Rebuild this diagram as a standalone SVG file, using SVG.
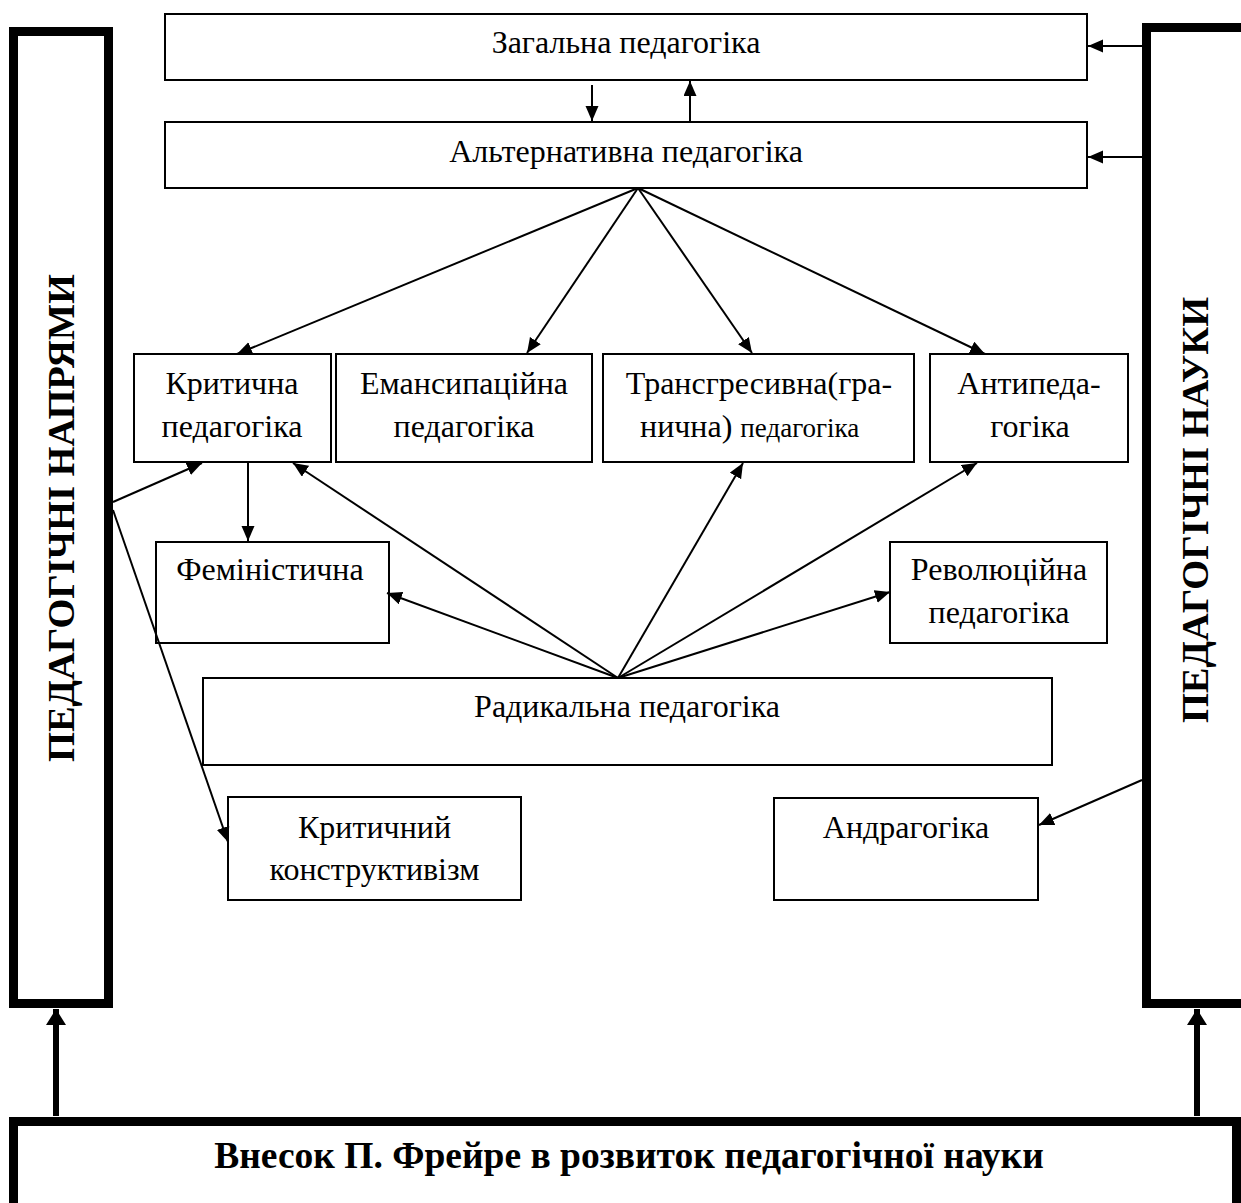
<svg xmlns="http://www.w3.org/2000/svg" width="1241" height="1203" viewBox="0 0 1241 1203">
<defs>
<style>
.box{fill:#fff;stroke:#000;stroke-width:2}
.frame{fill:#fff;stroke:#000;stroke-width:9}
.t{font-family:"Liberation Serif","Times New Roman",serif;font-size:32px;fill:#000;text-anchor:middle}
.tb{font-family:"Liberation Serif","Times New Roman",serif;font-weight:bold;fill:#000;text-anchor:middle}
.ln{stroke:#000;stroke-width:2;fill:none;marker-end:url(#ah)}
.thick{stroke:#000;stroke-width:6;fill:none;marker-end:url(#ahb)}
</style>
<marker id="ah" markerUnits="userSpaceOnUse" markerWidth="16" markerHeight="14" refX="15" refY="6.5" orient="auto">
<path d="M0,0 L15,6.5 L0,13 z" fill="#000"/>
</marker>
<marker id="ahb" markerUnits="userSpaceOnUse" markerWidth="18" markerHeight="20" refX="16" refY="10" orient="auto">
<path d="M0,0 L16,10 L0,20 z" fill="#000"/>
</marker>
</defs>
<rect width="1241" height="1203" fill="#fff"/>

<g id="frame-left">
<rect class="frame" x="13.5" y="31.5" width="95" height="972"/>
<text class="tb" font-size="38.5" transform="translate(74,518) rotate(-90)">ПЕДАГОГІЧНІ НАПРЯМИ</text>
</g>
<g id="frame-right">
<rect class="frame" x="1146.5" y="27.5" width="110" height="976"/>
<text class="tb" font-size="38.5" transform="translate(1208,510) rotate(-90)">ПЕДАГОГІЧНІ НАУКИ</text>
</g>
<g id="bottom">
<rect class="frame" x="13.5" y="1121.5" width="1223" height="86"/>
<text class="tb" font-size="37.5" x="629" y="1168">Внесок П. Фрейре в розвиток педагогічної науки</text>
</g>

<g id="zagalna">
<rect class="box" x="165" y="14" width="922" height="66"/>
<text class="t" x="626" y="53">Загальна педагогіка</text>
</g>
<g id="alternatyvna">
<rect class="box" x="165" y="122" width="922" height="66"/>
<text class="t" x="626" y="162">Альтернативна педагогіка</text>
</g>
<g id="krytychna">
<rect class="box" x="134" y="354" width="197" height="108"/>
<text class="t" x="232" y="394">Критична</text>
<text class="t" x="232" y="437">педагогіка</text>
</g>
<g id="emansypatsiina">
<rect class="box" x="336" y="354" width="256" height="108"/>
<text class="t" x="464" y="394">Емансипаційна</text>
<text class="t" x="464" y="437">педагогіка</text>
</g>
<g id="transgresyvna">
<rect class="box" x="603" y="354" width="311" height="108"/>
<text class="t" x="759" y="394">Трансгресивна(гра-</text>
<text class="t" x="640" y="437" style="text-anchor:start">нична) <tspan font-size="27">педагогіка</tspan></text>
</g>
<g id="antypedagogika">
<rect class="box" x="930" y="354" width="198" height="108"/>
<text class="t" x="1029" y="394">Антипеда-</text>
<text class="t" x="1030" y="437">гогіка</text>
</g>
<g id="feministychna">
<rect class="box" x="156" y="542" width="233" height="101"/>
<text class="t" x="270" y="580">Феміністична</text>
</g>
<g id="revoliutsiina">
<rect class="box" x="890" y="542" width="217" height="101"/>
<text class="t" x="999" y="580">Революційна</text>
<text class="t" x="999" y="623">педагогіка</text>
</g>
<g id="radykalna">
<rect class="box" x="203" y="678" width="849" height="87"/>
<text class="t" x="627" y="717">Радикальна педагогіка</text>
</g>
<g id="konstruktyvizm">
<rect class="box" x="228" y="797" width="293" height="103"/>
<text class="t" x="374.5" y="838">Критичний</text>
<text class="t" x="374.5" y="880">конструктивізм</text>
</g>
<g id="andragogika">
<rect class="box" x="774" y="798" width="264" height="102"/>
<text class="t" x="906" y="838">Андрагогіка</text>
</g>

<g id="connectors">
<line class="ln" x1="1142" y1="46" x2="1088" y2="46"/>
<line class="ln" x1="1142" y1="157" x2="1088" y2="157"/>
<line class="ln" x1="592" y1="85" x2="592" y2="121"/>
<line class="ln" x1="690" y1="121" x2="690" y2="81"/>
<line class="ln" x1="638" y1="188" x2="237" y2="354"/>
<line class="ln" x1="638" y1="188" x2="527" y2="353"/>
<line class="ln" x1="638" y1="188" x2="752" y2="353"/>
<line class="ln" x1="638" y1="188" x2="985" y2="354"/>
<line class="ln" x1="618" y1="678" x2="293" y2="463"/>
<line class="ln" x1="618" y1="678" x2="387" y2="593"/>
<line class="ln" x1="618" y1="678" x2="743" y2="463"/>
<line class="ln" x1="618" y1="678" x2="977" y2="463"/>
<line class="ln" x1="618" y1="678" x2="890" y2="592"/>
<line class="ln" x1="248" y1="462" x2="248" y2="541"/>
<line class="ln" x1="113" y1="502" x2="202" y2="463"/>
<line class="ln" x1="113" y1="510" x2="228" y2="842"/>
<line class="ln" x1="1142" y1="780" x2="1039" y2="825"/>
<line class="thick" x1="56" y1="1116" x2="56" y2="1009"/>
<line class="thick" x1="1197" y1="1116" x2="1197" y2="1009"/>
</g>
</svg>
